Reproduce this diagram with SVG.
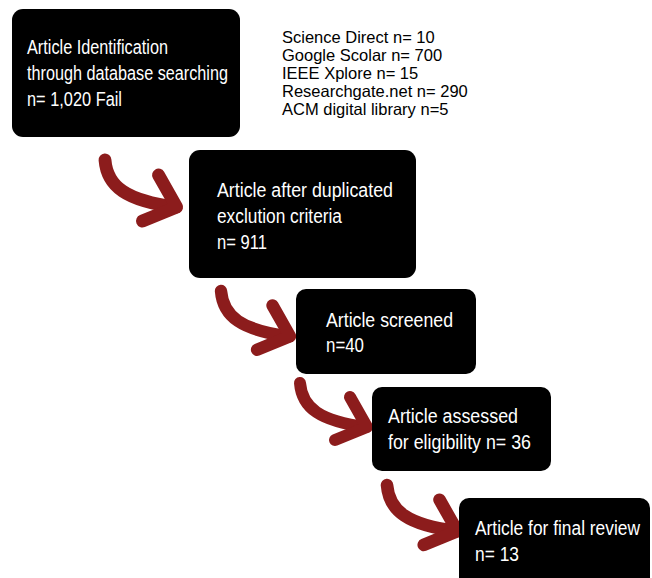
<svg xmlns="http://www.w3.org/2000/svg" xmlns:xlink="http://www.w3.org/1999/xlink" width="652" height="578" viewBox="0 0 652 578">
  <style>
    .box { fill: #000000; }
    .bt { font-family: "Liberation Sans Narrow", "Liberation Sans", Arial, sans-serif; font-size: 20px; fill: #ffffff; }
    .src { font-family: "Liberation Sans", Arial, sans-serif; font-size: 16.5px; fill: #000000; }
    .arr { fill: none; stroke: #8c1c1c; stroke-width: 12; stroke-linecap: round; stroke-linejoin: round; }
  </style>
  <defs>
    <g id="curvedArrow">
      <path class="arr" d="M0,0 C2,25 20,38 66,44"/>
      <path class="arr" d="M50,14 L67,44 L35,57"/>
    </g>
  </defs>
  <rect width="652" height="578" fill="#ffffff"/>

  <g id="connectors">
    <use xlink:href="#curvedArrow" transform="translate(105,160) scale(1.07)"/>
    <use xlink:href="#curvedArrow" transform="translate(221,291) scale(1.03)"/>
    <use xlink:href="#curvedArrow" transform="translate(300,383)"/>
    <use xlink:href="#curvedArrow" transform="translate(387,485) scale(1.05)"/>
  </g>

  <g id="node-identification">
    <rect class="box" x="12" y="9" width="228" height="128" rx="11"/>
    <text class="bt" x="27" y="54" textLength="141" lengthAdjust="spacingAndGlyphs">Article Identification</text>
    <text class="bt" x="27" y="80" textLength="201" lengthAdjust="spacingAndGlyphs">through database searching</text>
    <text class="bt" x="27" y="106" textLength="95" lengthAdjust="spacingAndGlyphs">n= 1,020 Fail</text>
  </g>

  <g id="sources">
    <text class="src" x="282" y="43">Science Direct n= 10</text>
    <text class="src" x="282" y="61">Google Scolar n= 700</text>
    <text class="src" x="282" y="79">IEEE Xplore n= 15</text>
    <text class="src" x="282" y="97">Researchgate.net n= 290</text>
    <text class="src" x="282" y="115">ACM digital library n=5</text>
  </g>

  <g id="node-duplicates">
    <rect class="box" x="189" y="150" width="227" height="128" rx="11"/>
    <text class="bt" x="217" y="197" textLength="176" lengthAdjust="spacingAndGlyphs">Article after duplicated</text>
    <text class="bt" x="217" y="223" textLength="125" lengthAdjust="spacingAndGlyphs">exclution criteria</text>
    <text class="bt" x="217" y="249" textLength="50" lengthAdjust="spacingAndGlyphs">n= 911</text>
  </g>

  <g id="node-screened">
    <rect class="box" x="296" y="289" width="180" height="85" rx="10"/>
    <text class="bt" x="326" y="327" textLength="127" lengthAdjust="spacingAndGlyphs">Article screened</text>
    <text class="bt" x="326" y="352" textLength="38" lengthAdjust="spacingAndGlyphs">n=40</text>
  </g>

  <g id="node-eligibility">
    <rect class="box" x="372" y="387" width="179" height="84" rx="10"/>
    <text class="bt" x="388" y="423" textLength="130" lengthAdjust="spacingAndGlyphs">Article assessed</text>
    <text class="bt" x="388" y="449" textLength="143" lengthAdjust="spacingAndGlyphs">for eligibility n= 36</text>
  </g>

  <g id="node-final">
    <path class="box" d="M469,498 H640 A10,10 0 0 1 650,508 V578 H459 V508 A10,10 0 0 1 469,498 Z"/>
    <text class="bt" x="475" y="535" textLength="165" lengthAdjust="spacingAndGlyphs">Article for final review</text>
    <text class="bt" x="475" y="561" textLength="44" lengthAdjust="spacingAndGlyphs">n= 13</text>
  </g>
</svg>
